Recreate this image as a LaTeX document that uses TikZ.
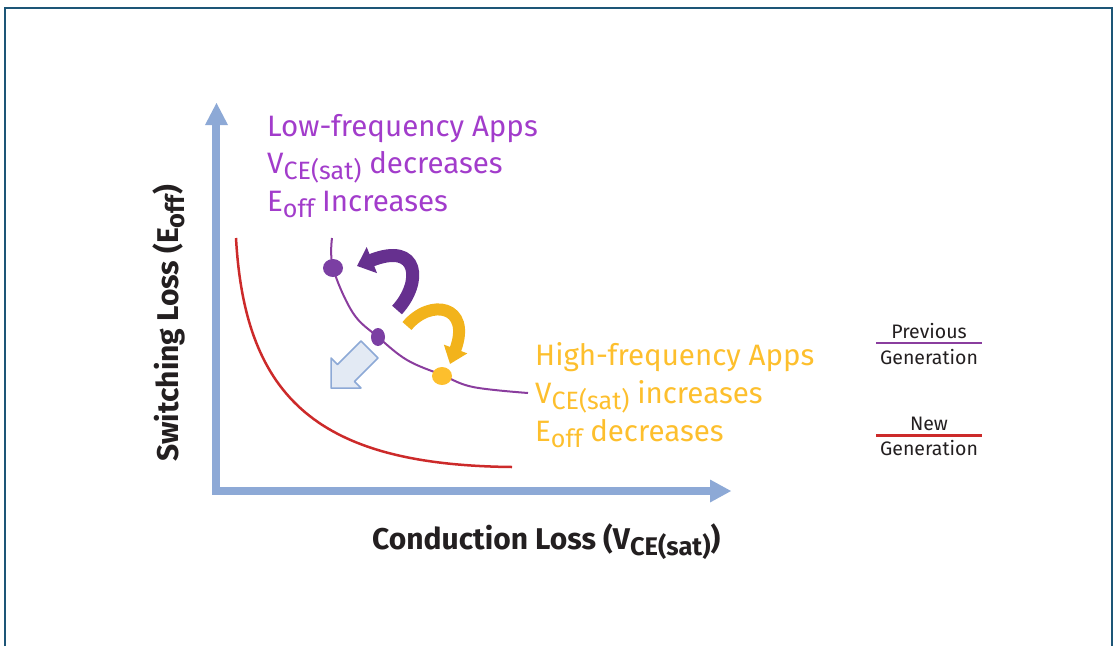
\documentclass[tikz,border=0pt]{standalone}
\usepackage{fontspec}
\setmainfont{Fira Sans}
\usetikzlibrary{arrows.meta,shapes.geometric}
\definecolor{frameblue}{HTML}{1D5677}
\definecolor{axisblue}{HTML}{8DA9D6}
\definecolor{lightfill}{HTML}{E3EAF4}
\definecolor{curvepurple}{HTML}{8A3D9E}
\definecolor{dotpurple}{HTML}{7B3FA3}
\definecolor{arrowpurple}{HTML}{66308F}
\definecolor{textpurple}{HTML}{A23CCB}
\definecolor{textorange}{HTML}{FDBF2D}
\definecolor{arroworange}{HTML}{F2B31B}
\definecolor{newred}{HTML}{CC2A2A}
\definecolor{darktext}{HTML}{231F20}
\newcommand\dn[1]{\raisebox{-0.22em}{\scalebox{0.85}{#1}}}
\tikzset{
  axisline/.style={draw=axisblue, line width=8pt},
  axishead/.style={fill=axisblue},
  lowtext/.style={anchor=base west, inner sep=0pt, text=textpurple, font=\fontsize{29.5}{34}\selectfont},
  hightext/.style={anchor=base west, inner sep=0pt, text=textorange, font=\fontsize{29.5}{34}\selectfont},
  axislabel/.style={anchor=base west, inner sep=0pt, text=darktext, font=\fontsize{30}{34}\selectfont\bfseries},
  legendtext/.style={anchor=base, inner sep=0pt, text=darktext, font=\fontsize{19.5}{22}\selectfont},
  ptdot/.style={ellipse, inner sep=0pt, draw=none},
}
\begin{document}
\begin{tikzpicture}[x=1pt,y=-1pt]
\useasboundingbox (0,0) rectangle (1116,646);
% frame
\draw[frameblue, line width=2.5pt] (5,646) -- (5,8) -- (1112,8) -- (1112,646);
% axes
\coordinate (ytop) at (216,124);
\coordinate (origin) at (216,490.5);
\coordinate (xend) at (711,490.5);
\draw[axisline] (ytop) -- (origin) -- (xend);
\fill[axishead] (205,125) -- (216.5,103) -- (228,125) -- cycle;
\fill[axishead] (710,479.5) -- (731,491) -- (710,502.5) -- cycle;
% axis labels
\node[axislabel] (xlab) at (372,549) {Conduction Loss (V\dn{CE(sat)})};
\node[axislabel, rotate=90] (ylab) at (178,462) {Switching Loss (E\dn{off})};
% curves
\draw[newred, line width=2.5pt] (236,238) .. controls (245,400) and (320,465) .. (512,467);
\draw[curvepurple, line width=2pt] plot[smooth, tension=0.6] coordinates {(332,238) (333,268) (353,313) (378,337) (407,360) (442,375) (473,387) (528,393)};
% dots
\node[ptdot, fill=dotpurple, minimum width=20pt, minimum height=18pt] (d1) at (333,268) {};
\node[ptdot, fill=dotpurple, minimum width=14pt, minimum height=18pt] (d2) at (378,337) {};
\node[ptdot, fill=textorange, minimum width=20pt, minimum height=18pt] (d3) at (442,376) {};
% curved arrows
\draw[arrowpurple, line width=13pt, -{Triangle[length=16pt,width=27pt]}] (397,310) .. controls (422,283) and (420,241) .. (357,266);
\draw[arroworange, line width=12pt, -{Triangle[length=16pt,width=24pt]}] (407,326) .. controls (430,298) and (472,305) .. (450,364);
% hollow block arrow
\draw[axisblue, fill=lightfill, line width=1.5pt, line join=round] (331,388) -- (331,358) -- (337.5,364.5) -- (361,341) -- (378,358) -- (354.5,381.5) -- (361,388) -- cycle;
% texts
\node[lowtext] (l1) at (267,136) {Low-frequency Apps};
\node[lowtext] (l2) at (267,173) {V\dn{CE(sat)} decreases};
\node[lowtext] (l3) at (267,211) {E\dn{off} Increases};
\node[hightext] (h1) at (535,365) {High-frequency Apps};
\node[hightext] (h2) at (535,403) {V\dn{CE(sat)} increases};
\node[hightext] (h3) at (535,441) {E\dn{off} decreases};
% legend
\node[legendtext] (prev) at (929,338) {Previous};
\node[legendtext] (gen1) at (929,364) {Generation};
\coordinate (pl1) at (876,343);
\coordinate (pl2) at (982,343);
\draw[curvepurple, line width=2pt] (pl1) -- (pl2);
\node[legendtext] (new) at (929,430) {New};
\node[legendtext] (gen2) at (929,455) {Generation};
\coordinate (rl1) at (876,435.5);
\coordinate (rl2) at (982,435.5);
\draw[newred, line width=2.5pt] (rl1) -- (rl2);
\end{tikzpicture}
\end{document}
